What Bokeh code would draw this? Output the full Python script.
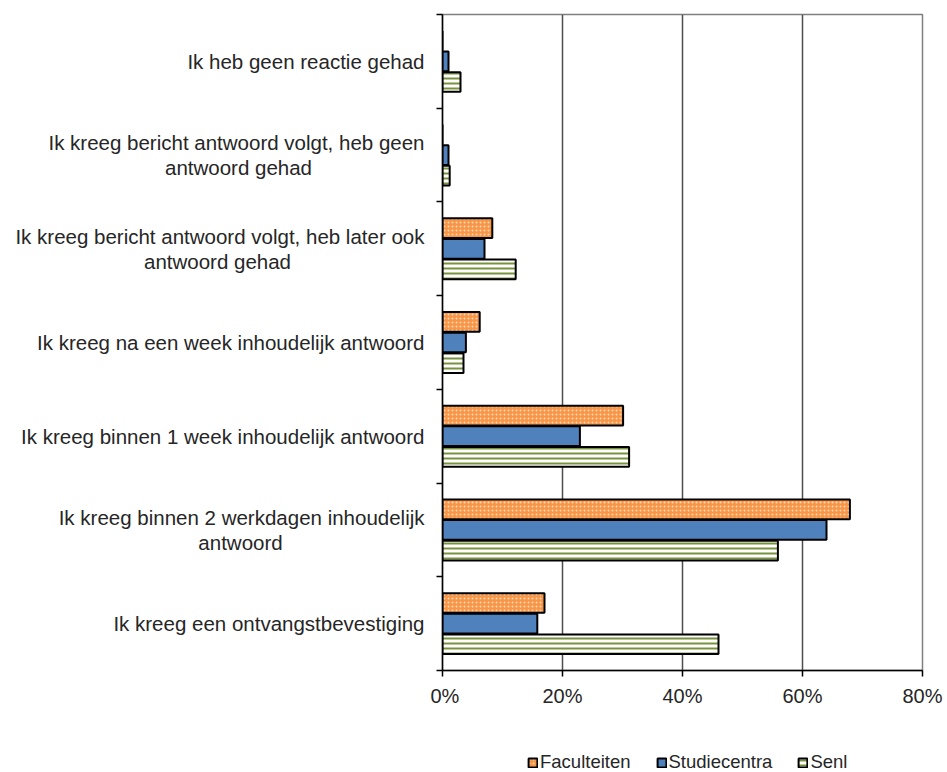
from bokeh.plotting import figure
from bokeh.models import (Range1d, FixedTicker, Legend, LegendItem, ColumnDataSource,
                          BoxAnnotation)
from bokeh.layouts import row, column
from bokeh.core.properties import value
from bokeh.embed import file_html
from bokeh.resources import INLINE

# Answer categories, top to bottom (a "\n" marks where a label wraps)
categories = [
    "Ik heb geen reactie gehad",
    "Ik kreeg bericht antwoord volgt, heb geen\nantwoord gehad",
    "Ik kreeg bericht antwoord volgt, heb later ook\nantwoord gehad",
    "Ik kreeg na een week inhoudelijk antwoord",
    "Ik kreeg binnen 1 week inhoudelijk antwoord",
    "Ik kreeg binnen 2 werkdagen inhoudelijk\nantwoord",
    "Ik kreeg een ontvangstbevestiging",
]

# Share of respondents (%) per group
faculteiten = [0.0, 0.0, 8.3, 6.2, 30.1, 67.9, 17.0]
studiecentra = [1.0, 1.0, 7.0, 3.9, 22.9, 64.0, 15.8]
senl = [3.0, 1.2, 12.2, 3.5, 31.1, 55.9, 46.0]

series_names = ["Faculteiten", "Studiecentra", "Senl"]

x_ticks = [0, 20, 40, 60, 80]
x_tick_labels = ["0%", "20%", "40%", "60%", "80%"]

FONT = "Liberation Sans"
TEXT = "#262626"

n = len(categories)
centers = [n - 0.5 - i for i in range(n)]
y_range = Range1d(0, n)

TOP, BOTTOM = 14, 70
LABEL_W = 430

# ---- main chart -------------------------------------------------------
p = figure(
    width=947 - LABEL_W, height=740,
    x_range=Range1d(0, 80), y_range=y_range,
    output_backend="svg", toolbar_location=None,
    min_border_left=12, min_border_right=25,
    min_border_top=TOP, min_border_bottom=BOTTOM,
)
p.outline_line_color = "#7f7f7f"
p.outline_line_width = 1.5

p.xgrid.ticker = FixedTicker(ticks=x_ticks)
p.xgrid.grid_line_color = "#4d4d4d"
p.xgrid.grid_line_width = 1.5
p.ygrid.grid_line_color = None

bar_h = 0.21
offs = [0.22, 0.0, -0.22]
styles = [
    dict(fill_color="#F79646", hatch_pattern="dot", hatch_color="#FDD9BC",
         hatch_scale=4, hatch_weight=1.5),
    dict(fill_color="#4F81BD"),
    dict(fill_color="white", hatch_pattern="horizontal_line", hatch_color="#77933C",
         hatch_scale=5, hatch_weight=2),
]
for vals, off, st in zip([faculteiten, studiecentra, senl], offs, styles):
    p.hbar(y=[c + off for c in centers], left=0, right=vals, height=bar_h,
           line_color="black", line_width=2, **st)

xa = p.xaxis[0]
xa.ticker = FixedTicker(ticks=x_ticks)
xa.major_label_overrides = {t: s for t, s in zip(x_ticks, x_tick_labels)}
xa.axis_line_color = "black"
xa.axis_line_width = 1.5
xa.major_tick_line_color = "black"
xa.major_tick_line_width = 1.5
xa.major_tick_in = 0
xa.major_tick_out = 6
xa.minor_tick_line_color = None
xa.major_label_standoff = 8
xa.major_label_text_font = FONT
xa.major_label_text_font_size = "20px"
xa.major_label_text_color = TEXT

# y axis: only tick marks on the category boundaries
ya = p.yaxis[0]
ya.ticker = FixedTicker(ticks=list(range(n + 1)))
ya.axis_line_color = "black"
ya.axis_line_width = 1.5
ya.major_tick_line_color = "black"
ya.major_tick_line_width = 1.5
ya.major_tick_in = 0
ya.major_tick_out = 6
ya.minor_tick_line_color = None
ya.major_label_standoff = 0
ya.major_label_text_font_size = "0px"

# ---- category labels (left panel, x measured in pixels) ----------------
lab = figure(
    width=LABEL_W, height=740, x_range=Range1d(0, LABEL_W), y_range=y_range,
    output_backend="svg", toolbar_location=None,
    min_border_left=0, min_border_right=0,
    min_border_top=TOP, min_border_bottom=BOTTOM,
)
lab.axis.visible = False
lab.grid.visible = False
lab.outline_line_color = None

right_edge = 424
wrap_center = {1: 238, 2: 217, 5: 240}
line_gap = 0.135
single = dict(x=[], y=[], t=[])
wrapped1 = dict(x=[], y=[], t=[])
wrapped2 = dict(x=[], y=[], t=[])
for i, (cat, c) in enumerate(zip(categories, centers)):
    lines = cat.split("\n")
    if len(lines) == 1:
        single["x"].append(right_edge); single["y"].append(c); single["t"].append(lines[0])
    else:
        wrapped1["x"].append(right_edge); wrapped1["y"].append(c + line_gap)
        wrapped1["t"].append(lines[0])
        wrapped2["x"].append(wrap_center[i]); wrapped2["y"].append(c - line_gap)
        wrapped2["t"].append(lines[1])

txt = dict(text_font=value(FONT), text_font_size="20.5px", text_color=TEXT,
           text_baseline="middle")
lab.text(x="x", y="y", text="t", source=ColumnDataSource(single), text_align="right", **txt)
lab.text(x="x", y="y", text="t", source=ColumnDataSource(wrapped1), text_align="right", **txt)
lab.text(x="x", y="y", text="t", source=ColumnDataSource(wrapped2), text_align="center", **txt)

# ---- legend strip -------------------------------------------------------
leg = figure(
    width=947, height=32, x_range=Range1d(0, 947), y_range=Range1d(0, 32),
    output_backend="svg", toolbar_location=None,
    min_border=0,
)
leg.axis.visible = False
leg.grid.visible = False
leg.outline_line_color = None
# swatch renderers supply the legend glyph styles; a white box masks their own marks
swatches = [leg.hbar(y=[16], left=[100], right=[104], height=4, line_color="black",
                     line_width=2, **st) for st in styles]
leg.add_layout(BoxAnnotation(left=90, right=115, bottom=8, top=24, fill_color="white",
                             fill_alpha=1, line_color=None, level="overlay"))
legend = Legend(
    items=[LegendItem(label=nm, renderers=[r]) for nm, r in zip(series_names, swatches)],
    orientation="horizontal", location=(527, -1),
    glyph_width=11, glyph_height=11, label_standoff=2, spacing=25,
    padding=0, margin=0, border_line_color=None, background_fill_alpha=0,
    label_text_font=FONT, label_text_font_size="18.5px", label_text_color=TEXT,
    label_height=18,
)
leg.add_layout(legend, "center")

layout = column(row(lab, p), leg)
open("out.html", "w").write(file_html(layout, INLINE))
